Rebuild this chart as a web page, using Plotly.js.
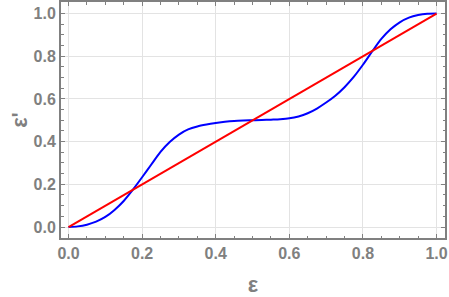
<!DOCTYPE html>
<html>
<head>
<meta charset="utf-8">
<script src="https://cdn.plot.ly/plotly-3.0.1.min.js"></script>
<style>html,body{margin:0;padding:0;background:#fff;}#chart{width:449px;height:297px;}</style>
</head>
<body>
<div id="chart"></div>
<script>
// Blue curve: eps -> eps'
const epsValues = [0, 0.025, 0.05, 0.075, 0.1, 0.125, 0.15, 0.175, 0.2, 0.225, 0.25, 0.275, 0.3, 0.325, 0.35, 0.375, 0.4, 0.425, 0.45, 0.475, 0.5,
  0.525, 0.55, 0.575, 0.6, 0.625, 0.65, 0.675, 0.7, 0.725, 0.75, 0.775, 0.8, 0.825, 0.85, 0.875, 0.9, 0.925, 0.95, 0.975, 1.0];
const epsPrimeValues = [0, 0.003, 0.011, 0.025, 0.047, 0.080, 0.122, 0.175, 0.233, 0.293, 0.352, 0.398, 0.433, 0.457, 0.471, 0.480, 0.487, 0.493, 0.497, 0.499, 0.5,
  0.501, 0.503, 0.505, 0.509, 0.518, 0.533, 0.555, 0.583, 0.615, 0.655, 0.703, 0.760, 0.822, 0.881, 0.926, 0.959, 0.981, 0.993, 0.999, 1.0];
// Red reference line eps' = eps
const diagX = [0, 1];
const diagY = [0, 1];
const xTickVals = [0, 0.2, 0.4, 0.6, 0.8, 1.0];
const xTickText = ["0.0", "0.2", "0.4", "0.6", "0.8", "1.0"];
const yTickVals = [0, 0.2, 0.4, 0.6, 0.8, 1.0];
const yTickText = ["0.0", "0.2", "0.4", "0.6", "0.8", "1.0"];

const gray = '#808080';
const traces = [
  {x: epsValues, y: epsPrimeValues, mode: 'lines', line: {color: '#0000ff', width: 2, shape: 'spline', smoothing: 0.8}, hoverinfo: 'none'},
  {x: diagX, y: diagY, mode: 'lines', line: {color: '#ff0000', width: 2}, hoverinfo: 'none'}
];
const axisCommon = {
  showline: true, linecolor: gray, linewidth: 2, mirror: 'ticks',
  ticks: 'inside', ticklen: 4, tickcolor: gray, tickwidth: 1,
  showgrid: true, gridcolor: '#e3e3e3', gridwidth: 1, zeroline: false,
  tickfont: {family: 'Liberation Sans, Arial, sans-serif', size: 16, color: gray, weight: 'bold'},
  minor: {dtick: 0.05, ticks: 'inside', ticklen: 2.5, tickcolor: gray, showgrid: false}
};
const layout = {
  width: 449, height: 297,
  margin: {l: 61, r: 4, t: 2, b: 59},
  paper_bgcolor: '#fff', plot_bgcolor: '#fff',
  showlegend: false,
  xaxis: Object.assign({}, axisCommon, {
    range: [-0.0204, 1.023], tickvals: xTickVals, ticktext: xTickText,
    minor: Object.assign({}, axisCommon.minor, {tick0: 0}),
    title: {text: 'ε', font: {family: 'Liberation Sans, Arial, sans-serif', size: 22, color: gray, weight: 'bold'}, standoff: 22}
  }),
  yaxis: Object.assign({}, axisCommon, {
    range: [-0.0515, 1.054], tickvals: yTickVals, ticktext: yTickText,
    minor: Object.assign({}, axisCommon.minor, {tick0: 0}),
    title: {text: "ε'", font: {family: 'Liberation Sans, Arial, sans-serif', size: 22, color: gray, weight: 'bold'}, standoff: 0}
  })
};
Plotly.newPlot('chart', traces, layout, {staticPlot: true, displayModeBar: false});
</script>
</body>
</html>
